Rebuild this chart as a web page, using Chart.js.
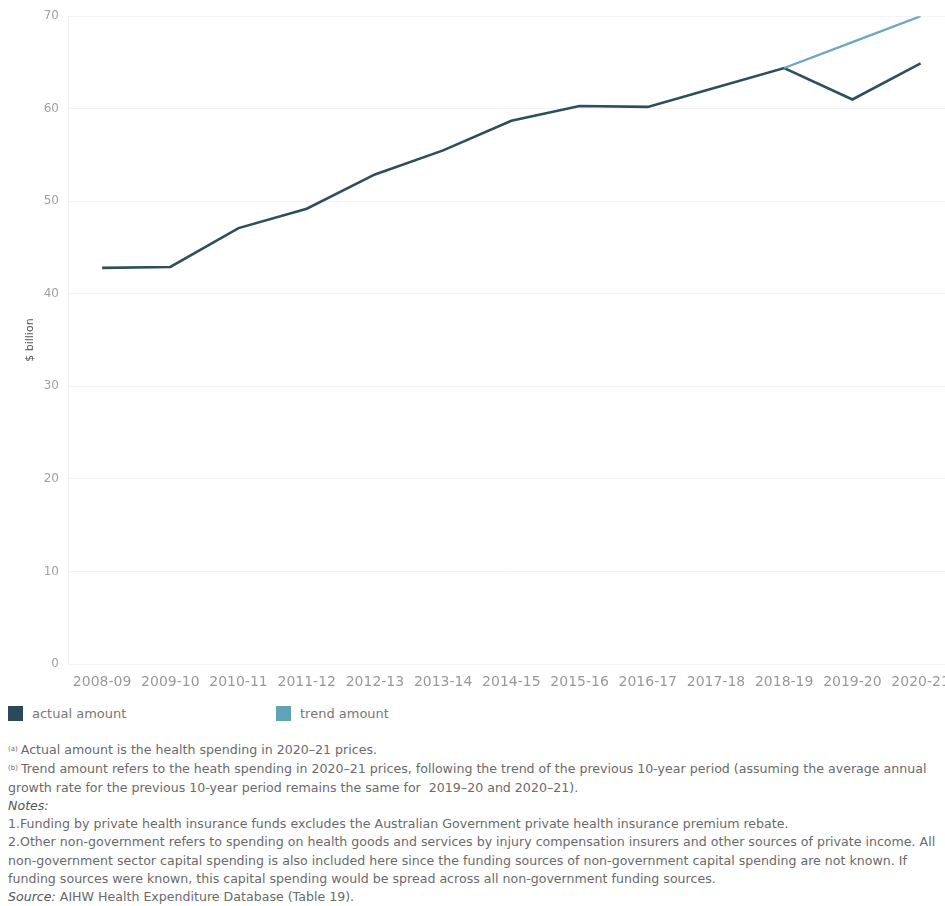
<!DOCTYPE html>
<html>
<head>
<meta charset="utf-8">
<script src="https://cdn.jsdelivr.net/npm/chart.js@4"></script>
<style>
  html, body { margin: 0; padding: 0; background: #fff; overflow: hidden; width: 945px; height: 906px; }
  body { font-family: "DejaVu Sans", sans-serif; color: #666; position: relative; }
  #wrap { position: absolute; left: 0; top: 0; width: 960px; height: 700px; }
  .legend { position: absolute; top: 706px; font-size: 13px; color: #777; }
  .legend span.sw { display: inline-block; width: 15px; height: 15px; vertical-align: -3px; margin-right: 9px; }
  #notes { position: absolute; left: 8px; top: 740px; font-size: 12.6px; line-height: 18.3px; color: #6a6a6a; white-space: nowrap; }
  #notes sup { font-size: 7px; vertical-align: 3px; margin-right: 3px; }
  #notes i { color: #555; }
</style>
</head>
<body>
<div id="wrap"><canvas id="spendChart"></canvas></div>
<div class="legend" style="left:8px"><span class="sw" style="background:#2b4a58"></span>actual amount</div>
<div class="legend" style="left:276px"><span class="sw" style="background:#5ea3b8"></span>trend amount</div>
<div id="notes">
  <div><sup>(a)</sup>Actual amount is the health spending in 2020–21 prices.</div>
  <div><sup>(b)</sup>Trend amount refers to the heath spending in 2020–21 prices, following the trend of the previous 10-year period (assuming the average annual<br>growth rate for the previous 10-year period remains the same for &nbsp;2019–20 and 2020–21).</div>
  <div><i>Notes:</i></div>
  <div>1.Funding by private health insurance funds excludes the Australian Government private health insurance premium rebate.</div>
  <div>2.Other non-government refers to spending on health goods and services by injury compensation insurers and other sources of private income. All<br>non-government sector capital spending is also included here since the funding sources of non-government capital spending are not known. If<br>funding sources were known, this capital spending would be spread across all non-government funding sources.</div>
  <div><i>Source:</i> AIHW Health Expenditure Database (Table 19).</div>
</div>
<script>
const years = ['2008-09', '2009-10', '2010-11', '2011-12', '2012-13', '2013-14', '2014-15',
  '2015-16', '2016-17', '2017-18', '2018-19', '2019-20', '2020-21'];
const actualAmount = [42.8, 42.9, 47.1, 49.2, 52.9, 55.5, 58.7, 60.3, 60.2, 62.3, 64.4, 61.0, 64.9];
const trendAmount = [null, null, null, null, null, null, null, null, null, null, 64.4, 67.2, 70.0];
const yTicks = [0, 10, 20, 30, 40, 50, 60, 70];

document.addEventListener('DOMContentLoaded', () => {
  createSpendChart();
});

function createSpendChart() {
  const ctx = document.getElementById('spendChart').getContext('2d');

  new Chart(ctx, {
    type: 'line',
    data: {
      labels: years,
      datasets: [{
        label: 'trend amount',
        data: trendAmount,
        borderColor: '#6aa8bb',
        borderWidth: 2.2,
        pointRadius: 0,
        tension: 0,
        spanGaps: false
      }, {
        label: 'actual amount',
        data: actualAmount,
        borderColor: '#2d4f5c',
        borderWidth: 2.6,
        pointRadius: 0,
        tension: 0
      }]
    },
    options: {
      responsive: true,
      maintainAspectRatio: false,
      animation: false,
      layout: { padding: { top: 11, right: 4, left: 0, bottom: 0 } },
      plugins: {
        legend: { display: false },
        tooltip: { enabled: false }
      },
      scales: {
        x: {
          offset: true,
          grid: { display: false, drawTicks: false },
          border: { display: false },
          ticks: {
            autoSkip: false,
            maxRotation: 0,
            padding: 10,
            color: '#999',
            font: { family: 'DejaVu Sans', size: 14 }
          },
          afterFit: scale => { scale.height = 36; }
        },
        y: {
          min: 0,
          max: 70,
          afterBuildTicks: scale => { scale.ticks = yTicks.map(v => ({ value: v })); },
          grid: { color: '#f3f3f3', drawTicks: false },
          border: { color: '#efefef' },
          ticks: {
            padding: 9,
            color: '#a0a0a0',
            font: { family: 'DejaVu Sans', size: 12 }
          },
          title: {
            display: true,
            text: '$ billion',
            color: '#555',
            font: { family: 'DejaVu Sans', size: 11 },
            padding: { top: 24, bottom: 0 }
          },
          afterFit: scale => { scale.width = 68; }
        }
      }
    }
  });
}
</script>
</body>
</html>
